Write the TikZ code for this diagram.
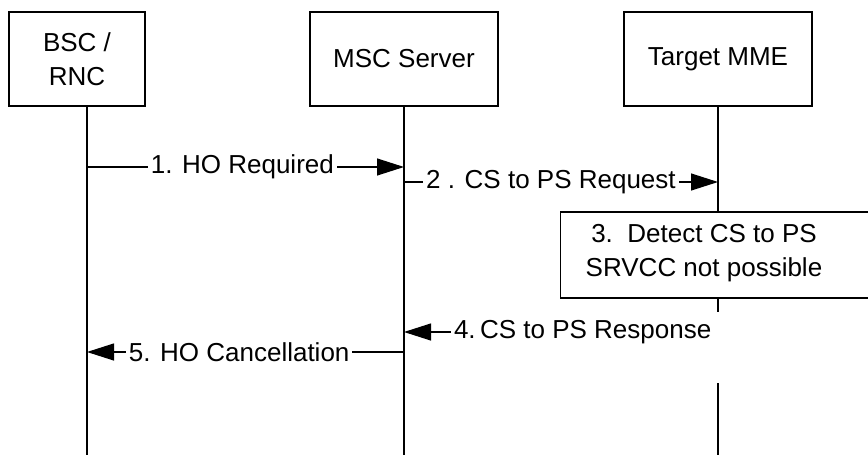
\documentclass[tikz,border=0pt]{standalone}
\usepackage{fontspec}
\setmainfont{Liberation Sans}
\usetikzlibrary{arrows.meta}

\begin{document}
\begin{tikzpicture}[x = 0.5pt, y = -0.5pt, font = \fontsize{13}{17}\selectfont,
		entity/.style = {draw, line width = 0.6pt, minimum width = 94pt, minimum height = 47pt, align = center},
		msg/.style = {line width = 0.6pt, -{Triangle[length = 13.5pt, width = 8.5pt]}},
		lbl/.style = {fill = white, inner xsep = 1.5pt, inner ysep = 1pt}]
	\useasboundingbox (0, 0) rectangle (868, 455);

	\coordinate (bsc1) at (87, 106);
	\coordinate (bsc2) at (87, 455);

	\coordinate (msc1) at (404, 106);
	\coordinate (msc2) at (404, 455);

	\coordinate (mme1) at (718, 106);
	\coordinate (mme2) at (718, 312);
	\coordinate (mme3) at (718, 383);
	\coordinate (mme4) at (718, 455);

	\coordinate (m1a) at (87, 167);
	\coordinate (m1b) at (404, 167);
	\coordinate (m2a) at (404, 182);
	\coordinate (m2b) at (718, 182);
	\coordinate (m4a) at (712, 332);
	\coordinate (m4b) at (404, 332);
	\coordinate (m5a) at (404, 352);
	\coordinate (m5b) at (87, 352);

	\draw [line width = 0.6pt] (bsc1) -- (bsc2);
	\draw [line width = 0.6pt] (msc1) -- (msc2);
	\draw [line width = 0.6pt] (mme1) -- (mme2);
	\draw [line width = 0.6pt] (mme3) -- (mme4);

	\node [entity, minimum width = 68pt] (bsc) at (77, 59) {BSC /\\RNC};
	\node [entity] (msc) at (404, 59) {MSC Server};
	\node [entity] (mme) at (718, 59) {Target MME};

	\node [draw, fill = white, line width = 0.6pt, anchor = west, minimum width = 160pt, minimum height = 43pt] (detect) at (560, 255) {};
	\node [align = center] (detecttext) at (704, 253) {3.~~Detect CS to PS\\SRVCC not possible};

	\draw [msg] (m1a) -- node [lbl, pos = 0.49] {1. HO Required} (m1b);
	\draw [msg] (m2a) -- node [lbl, pos = 0.468] {2 . CS to PS Request} (m2b);
	\draw [msg] (m4a) -- node [lbl, pos = 0.42] {4.\,CS to PS Response} (m4b);
	\draw [msg] (m5a) -- node [lbl, pos = 0.52] {5. HO Cancellation} (m5b);
\end{tikzpicture}
\end{document}
